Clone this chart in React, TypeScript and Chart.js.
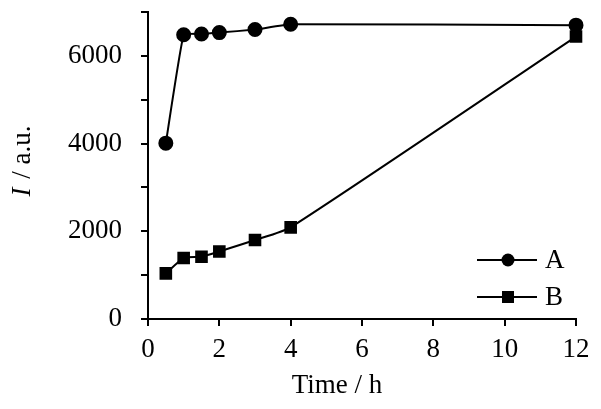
import React, { useEffect, useRef } from "react";
import { Chart, registerables } from "chart.js";

Chart.register(...registerables);

const timeA = [0.5, 1, 1.5, 2, 3, 4, 12];
const valuesA = [4010, 6480, 6500, 6530, 6600, 6720, 6700];
const timeB = [0.5, 1, 1.5, 2, 3, 4, 12];
const valuesB = [1040, 1390, 1420, 1540, 1800, 2090, 6440];
const seriesNames = ["A", "B"];
const yLabelTicks = [0, 2000, 4000, 6000];

const FONT = '"Liberation Serif", "Times New Roman", serif';

const overlayPlugin = {
  id: "overlay",
  afterDraw(chart: any) {
    const ctx = chart.ctx;
    ctx.save();
    ctx.fillStyle = "#000";
    // x title
    ctx.font = `27px ${FONT}`;
    ctx.textAlign = "center";
    ctx.textBaseline = "middle";
    ctx.fillText("Time / h", 337, 386);
    // y title
    ctx.translate(23, 162);
    ctx.rotate(-Math.PI / 2);
    ctx.textBaseline = "middle";
    ctx.textAlign = "left";
    const italic = `italic 27px ${FONT}`;
    const normal = `27px ${FONT}`;
    ctx.font = italic;
    const wI = ctx.measureText("I").width;
    ctx.font = normal;
    const rest = " / a.u.";
    const wR = ctx.measureText(rest).width;
    const start = -(wI + wR) / 2;
    ctx.font = italic;
    ctx.fillText("I", start, 0);
    ctx.font = normal;
    ctx.fillText(rest, start + wI + 2, 0);
    ctx.restore();

    // legend
    ctx.save();
    const rows = [260, 297];
    chart.data.datasets.forEach((ds: any, i: number) => {
      const y = rows[i];
      ctx.strokeStyle = "#000";
      ctx.lineWidth = 2;
      ctx.beginPath();
      ctx.moveTo(477, y);
      ctx.lineTo(537, y);
      ctx.stroke();
      ctx.fillStyle = "#000";
      if (ds.pointStyle === "circle") {
        ctx.beginPath();
        ctx.arc(508, y, 6.5, 0, Math.PI * 2);
        ctx.fill();
      } else {
        ctx.fillRect(508 - 6, y - 6, 12, 12);
      }
      ctx.font = `27px ${FONT}`;
      ctx.textAlign = "left";
      ctx.textBaseline = "middle";
      ctx.fillText(ds.label, 545, y + 1);
    });
    ctx.restore();
  },
};

export default function App() {
  const ref = useRef<HTMLCanvasElement>(null);
  useEffect(() => {
    if (!ref.current) return;
    const chart = new Chart(ref.current, {
      type: "line",
      data: {
        datasets: [
          {
            label: seriesNames[0],
            data: timeA.map((t, i) => ({ x: t, y: valuesA[i] })),
            borderColor: "#000",
            backgroundColor: "#000",
            borderWidth: 2,
            pointStyle: "circle",
            pointRadius: 6.5,
            tension: 0.1,
            clip: false,
          },
          {
            label: seriesNames[1],
            data: timeB.map((t, i) => ({ x: t, y: valuesB[i] })),
            borderColor: "#000",
            backgroundColor: "#000",
            borderWidth: 2,
            pointStyle: "rect",
            pointRadius: 7.5,
            tension: 0.2,
            clip: false,
          },
        ],
      },
      options: {
        animation: false,
        responsive: true,
        maintainAspectRatio: false,
        layout: { padding: { top: 12, right: 25, left: 0, bottom: 0 } },
        plugins: { legend: { display: false }, tooltip: { enabled: false } },
        scales: {
          x: {
            type: "linear",
            min: 0,
            max: 12,
            afterFit: (s: any) => {
              s.height = 90;
              s.paddingLeft = 0;
              s.paddingRight = 0;
            },
            ticks: {
              stepSize: 2,
              color: "#000",
              font: { family: FONT, size: 27 },
              padding: 8,
              maxRotation: 0,
            },
            grid: {
              display: true,
              drawOnChartArea: false,
              drawTicks: true,
              tickLength: 7,
              color: "#000",
              lineWidth: 2,
            },
            border: { display: true, color: "#000", width: 2 },
          },
          y: {
            min: 0,
            max: 7000,
            afterFit: (s: any) => {
              s.width = 148;
              s.paddingTop = 0;
              s.paddingBottom = 0;
            },
            ticks: {
              stepSize: 500,
              color: "#000",
              font: { family: FONT, size: 27 },
              padding: 19,
              callback: (v: any) => (yLabelTicks.includes(Number(v)) ? String(v) : ""),
            },
            grid: {
              display: true,
              drawOnChartArea: false,
              drawTicks: true,
              tickLength: 7,
              color: "#000",
              lineWidth: 2,
            },
            border: { display: true, color: "#000", width: 2 },
          },
        },
      },
      plugins: [overlayPlugin],
    });
    return () => chart.destroy();
  }, []);
  return (
    <div style={{ position: "fixed", left: 0, top: 0, width: 601, height: 409, background: "#fff" }}>
      <canvas ref={ref} />
    </div>
  );
}
